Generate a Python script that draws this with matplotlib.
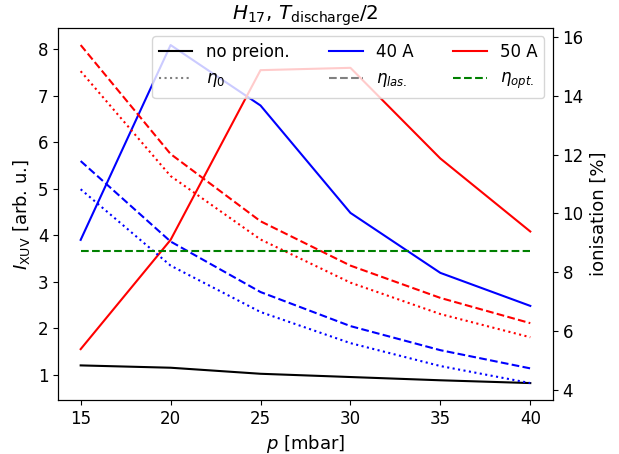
import numpy as np
import matplotlib.pyplot as plt
from matplotlib.lines import Line2D

plt.rcParams['font.size'] = 12
plt.rcParams['axes.labelsize'] = 13
plt.rcParams['axes.titlesize'] = 14.4

# pressure [mbar]
p = [15, 20, 25, 30, 35, 40]

# XUV intensity [arb. u.]
I_nopre = [1.2, 1.15, 1.02, 0.95, 0.88, 0.82]
I_40A = [3.9, 8.09, 6.79, 4.48, 3.19, 2.48]
I_50A = [1.55, 3.9, 7.55, 7.6, 5.65, 4.08]

# ionisation [%]
eta0_40A = [10.82, 8.22, 6.64, 5.58, 4.80, 4.22]
eta0_50A = [14.84, 11.27, 9.11, 7.64, 6.57, 5.78]
etalas_40A = [11.78, 9.04, 7.32, 6.16, 5.34, 4.72]
etalas_50A = [15.73, 12.02, 9.73, 8.22, 7.12, 6.26]
eta_opt = 8.73

fig, ax = plt.subplots(figsize=(6.19, 4.54), dpi=100)
fig.subplots_adjust(left=0.094, right=0.893, bottom=0.119, top=0.938)

ax.plot(p, I_nopre, color='black')
ax.plot(p, I_40A, color='blue')
ax.plot(p, I_50A, color='red')
ax.set_xlabel('$p$ [mbar]')
ax.set_ylabel(r'$I_\mathrm{XUV}$ [arb. u.]')
ax.set_title(r'$H_{17}$, $T_\mathrm{discharge}/2$')

ax2 = ax.twinx()
ax2.plot(p, eta0_40A, color='blue', ls=':')
ax2.plot(p, eta0_50A, color='red', ls=':')
ax2.plot(p, etalas_40A, color='blue', ls='--')
ax2.plot(p, etalas_50A, color='red', ls='--')
ax2.plot(p, [eta_opt] * len(p), color='green', ls='--')
ax2.set_ylabel('ionisation [%]')

handles = [
    Line2D([], [], color='black'),
    Line2D([], [], color='gray', ls=':'),
    Line2D([], [], color='blue'),
    Line2D([], [], color='gray', ls='--'),
    Line2D([], [], color='red'),
    Line2D([], [], color='green', ls='--'),
]
labels = ['no preion.', r'$\eta_0$', '40 A', r'$\eta_{las.}$', '50 A', r'$\eta_{opt.}$']
ax2.legend(handles, labels, ncol=3, loc='upper right', columnspacing=2.4)

plt.savefig('out.png')
